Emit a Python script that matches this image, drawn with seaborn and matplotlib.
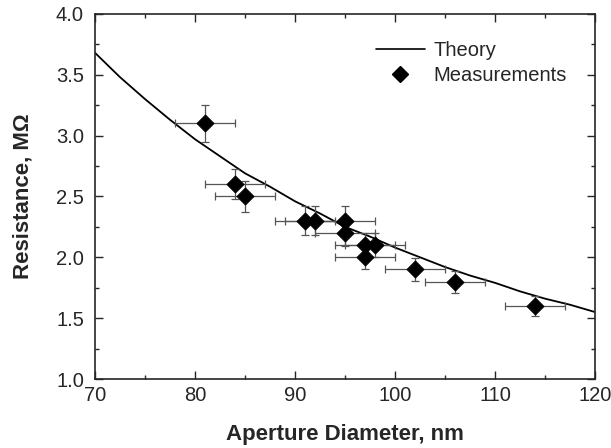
import matplotlib
matplotlib.use("Agg")
import matplotlib.pyplot as plt
import seaborn as sns
import pandas as pd
from matplotlib.ticker import MultipleLocator, FormatStrFormatter
from matplotlib.lines import Line2D

# Theory curve
theory_d = [70, 72.5, 75, 77.5, 80, 82.5, 85, 87.5, 90, 92.5, 95, 97.5,
            100, 102.5, 105, 107.5, 110, 112.5, 115, 117.5, 120]
theory_r = [3.68, 3.48, 3.30, 3.13, 2.97, 2.83, 2.69, 2.58, 2.46, 2.36, 2.25, 2.17,
            2.08, 2.00, 1.92, 1.85, 1.79, 1.72, 1.66, 1.61, 1.55]

# Measurements
meas_d = [81, 84, 85, 91, 92, 95, 95, 97, 97, 98, 102, 106, 114]
meas_r = [3.1, 2.6, 2.5, 2.3, 2.3, 2.3, 2.2, 2.1, 2.0, 2.1, 1.9, 1.8, 1.6]
meas_xerr = [3, 3, 3, 3, 3, 3, 3, 3, 3, 3, 3, 3, 3]
meas_yerr = [0.155, 0.125, 0.125, 0.12, 0.12, 0.12, 0.11, 0.1, 0.1, 0.1, 0.095, 0.09, 0.08]

sns.set_style("ticks")
plt.rcParams['font.family'] = ['Liberation Sans', 'DejaVu Sans']

fig = plt.figure(figsize=(6.11, 4.48), dpi=100)
ax = fig.add_axes([0.1555, 0.154, 0.8185, 0.815])

df_t = pd.DataFrame({"d": theory_d, "r": theory_r})
df_m = pd.DataFrame({"d": meas_d, "r": meas_r})

sns.lineplot(data=df_t, x="d", y="r", ax=ax, color="black", linewidth=1.3)
ax.errorbar(meas_d, meas_r, xerr=meas_xerr, yerr=meas_yerr, fmt="none",
            ecolor="#555555", elinewidth=0.9, capsize=3, capthick=0.9, zorder=2)
sns.scatterplot(data=df_m, x="d", y="r", ax=ax, marker="D", s=75,
                color="black", edgecolor="black", zorder=3)

ax.set_xlim(70, 120)
ax.set_ylim(1.0, 4.0)
ax.xaxis.set_major_locator(MultipleLocator(10))
ax.xaxis.set_minor_locator(MultipleLocator(5))
ax.yaxis.set_major_locator(MultipleLocator(0.5))
ax.yaxis.set_minor_locator(MultipleLocator(0.25))
ax.yaxis.set_major_formatter(FormatStrFormatter('%.1f'))
ax.tick_params(which="both", direction="in", top=True, right=True, labelsize=14.5)
ax.tick_params(which="major", length=5.5, width=1)
ax.tick_params(which="minor", length=3, width=1)
ax.tick_params(axis="x", pad=5)
ax.tick_params(axis="y", pad=8)
for s in ax.spines.values():
    s.set_linewidth(1.2)

ax.set_xlabel("Aperture Diameter, nm", fontsize=16, fontweight="bold", labelpad=14)
ax.set_ylabel("Resistance, M\u03a9", fontsize=16, fontweight="bold", labelpad=16)

handles = [Line2D([0], [0], color="black", linewidth=1.2),
           Line2D([0], [0], marker="D", color="black", linestyle="none", markersize=8)]
ax.legend(handles, ["Theory", "Measurements"], loc="upper right",
          bbox_to_anchor=(0.98, 0.975), frameon=False, fontsize=14.5,
          handlelength=2.4, handletextpad=0.45, labelspacing=0.3)

fig.savefig("out.png", dpi=100)
